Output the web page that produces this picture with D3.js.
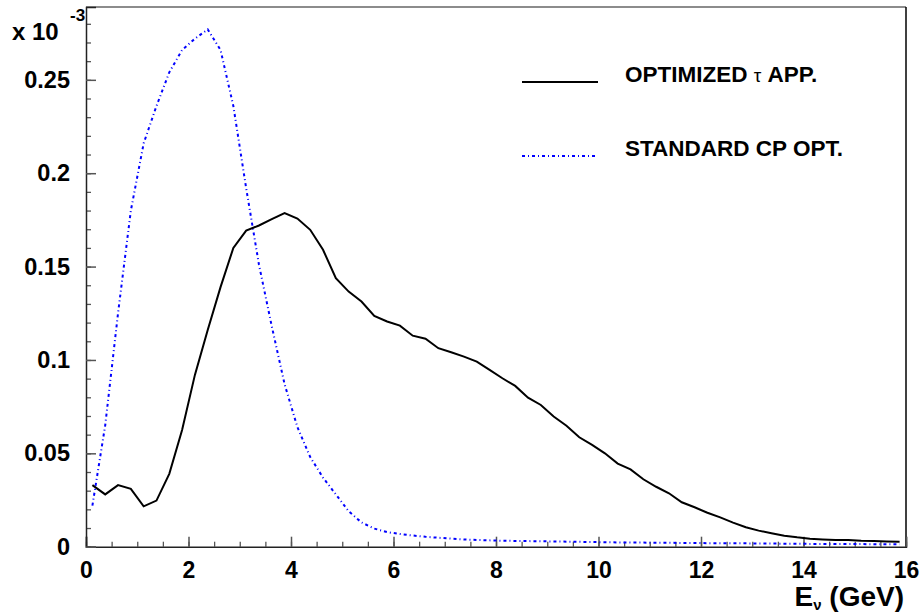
<!DOCTYPE html>
<html>
<head>
<meta charset="utf-8">
<script src="https://cdnjs.cloudflare.com/ajax/libs/d3/7.8.5/d3.min.js"></script>
<style>
  body { margin: 0; background: #fff; }
  text { font-family: "Liberation Sans", Arial, Helvetica, sans-serif; font-weight: bold; fill: #000; }
</style>
</head>
<body>
<script>
let w = 921;
let h = 614;
var margin = {left: 86, right: 15, top: 7, bottom: 67.3};

// bin centres, 0.25 GeV wide bins
var energy = d3.range(64).map(i => 0.125 + i * 0.25);

var optimizedTau = [
    0.033, 0.028, 0.033, 0.031, 0.0216, 0.0247, 0.039, 0.0625,
    0.092, 0.116, 0.139, 0.160, 0.1693, 0.172, 0.1754, 0.1786,
    0.1757, 0.1697, 0.159, 0.1438, 0.1366, 0.1313, 0.1236, 0.1206,
    0.1184, 0.113, 0.1114, 0.1063, 0.1041, 0.1018, 0.0991, 0.0947,
    0.0902, 0.0861, 0.0798, 0.0759, 0.0697, 0.0648, 0.0586, 0.0545,
    0.050, 0.0445, 0.0414, 0.0361, 0.0321, 0.0286, 0.0238, 0.0211,
    0.0182, 0.0157, 0.0129, 0.0104, 0.0086, 0.0072, 0.0059, 0.005,
    0.0043, 0.0039, 0.0036, 0.0036, 0.0032, 0.0030, 0.0028, 0.0027
];

var standardCP = [
    0.022, 0.065, 0.125, 0.18, 0.216, 0.236, 0.254, 0.266,
    0.272, 0.277, 0.266, 0.236, 0.192, 0.151, 0.118, 0.087,
    0.064, 0.048, 0.037, 0.028, 0.019, 0.013, 0.0097, 0.0078,
    0.0068, 0.006, 0.0053, 0.0048, 0.0043, 0.0039, 0.0036, 0.0034,
    0.0032, 0.0031, 0.003, 0.0029, 0.0028, 0.0027, 0.0026, 0.0025,
    0.0024, 0.0023, 0.0022, 0.0022, 0.0021, 0.0021, 0.002, 0.002,
    0.0019, 0.0019, 0.0018, 0.0018, 0.0017, 0.0017, 0.0016, 0.0016,
    0.0015, 0.0015, 0.0014, 0.0014, 0.0014, 0.0013, 0.0013, 0.0013
];

var xTicks = [0, 2, 4, 6, 8, 10, 12, 14, 16];
var xTickLabels = ["0", "2", "4", "6", "8", "10", "12", "14", "16"];
var yTicks = [0, 0.05, 0.1, 0.15, 0.2, 0.25];
var yTickLabels = ["0", "0.05", "0.1", "0.15", "0.2", "0.25"];

var legendNames = [["OPTIMIZED ", "\u03c4", " APP."], ["STANDARD CP OPT.", "", ""]];

var svg = d3.select("body").append("svg")
    .attr("width", w)
    .attr("height", h);

var x = d3.scaleLinear().domain([0, 16]).range([margin.left, w - margin.right]);
var y = d3.scaleLinear().domain([0, 0.289]).range([h - margin.bottom, margin.top]);

// frame top / right
svg.append("line")
    .attr("x1", x(0)).attr("x2", x(16))
    .attr("y1", y(0.289)).attr("y2", y(0.289))
    .attr("stroke", "#666").attr("stroke-width", 1.5);
svg.append("line")
    .attr("x1", x(16)).attr("x2", x(16))
    .attr("y1", y(0.289)).attr("y2", y(0))
    .attr("stroke", "#000").attr("stroke-width", 1.5);

// minor ticks
svg.append("g")
    .attr("transform", `translate(0,${y(0)})`)
    .call(d3.axisBottom(x).tickValues(d3.range(0, 16.01, 0.5)).tickSize(-5).tickFormat(""))
    .call(g => g.select(".domain").remove())
    .call(g => g.selectAll("line").attr("stroke", "#555").attr("stroke-width", 1.3));
svg.append("g")
    .attr("transform", `translate(${x(0)},0)`)
    .call(d3.axisLeft(y).tickValues(d3.range(0, 0.2891, 0.01)).tickSize(-5).tickFormat(""))
    .call(g => g.select(".domain").remove())
    .call(g => g.selectAll("line").attr("stroke", "#555").attr("stroke-width", 1.3));

// major ticks + labels
var xAxis = svg.append("g")
    .attr("transform", `translate(0,${y(0)})`)
    .call(d3.axisBottom(x).tickValues(xTicks).tickSize(-10).tickPadding(15)
        .tickFormat((d, i) => xTickLabels[i]));
xAxis.select(".domain").attr("stroke", "#222").attr("stroke-width", 1.5);
xAxis.selectAll("line").attr("stroke", "#555").attr("stroke-width", 1.5);
xAxis.selectAll("text").attr("font-size", 23).attr("fill", "#000")
    .attr("font-family", "Liberation Sans, Arial, sans-serif").attr("font-weight", "bold");

var yAxis = svg.append("g")
    .attr("transform", `translate(${x(0)},0)`)
    .call(d3.axisLeft(y).tickValues(yTicks).tickSize(-10).tickPadding(16)
        .tickFormat((d, i) => yTickLabels[i]));
yAxis.select(".domain").attr("stroke", "#222").attr("stroke-width", 1.5);
yAxis.selectAll("line").attr("stroke", "#555").attr("stroke-width", 1.5);
yAxis.selectAll("text").attr("font-size", 23.5).attr("fill", "#000")
    .attr("font-family", "Liberation Sans, Arial, sans-serif").attr("font-weight", "bold");

// curves
var line = d3.line()
    .x((d, i) => x(energy[i]))
    .y(d => y(d));

svg.append("path")
    .datum(standardCP)
    .attr("d", line)
    .attr("fill", "none")
    .attr("stroke", "#0000ff")
    .attr("stroke-width", 2)
    .attr("stroke-dasharray", "3,3,1,3");

svg.append("path")
    .datum(optimizedTau)
    .attr("d", line)
    .attr("fill", "none")
    .attr("stroke", "#000")
    .attr("stroke-width", 2);

// legend
var legendStyles = [
    {stroke: "#000", dash: null, y: 82},
    {stroke: "#0000ff", dash: "3,3,1,3", y: 156}
];
legendNames.forEach((name, i) => {
    svg.append("line")
        .attr("x1", 522).attr("x2", 598)
        .attr("y1", legendStyles[i].y).attr("y2", legendStyles[i].y)
        .attr("stroke", legendStyles[i].stroke)
        .attr("stroke-width", 2)
        .attr("stroke-dasharray", legendStyles[i].dash);
    var t = svg.append("text")
        .attr("x", 625).attr("y", legendStyles[i].y)
        .attr("font-size", 22.5);
    t.append("tspan").text(name[0]);
    t.append("tspan").attr("font-weight", "normal").attr("font-size", 19).text(name[1]);
    t.append("tspan").text(name[2]);
});

// multiplier
svg.append("text").attr("x", 12).attr("y", 40).attr("font-size", 24).text("x 10");
svg.append("text").attr("x", 70).attr("y", 21).attr("font-size", 17).text("-3");

// x title
var title = svg.append("text")
    .attr("x", 904).attr("y", 606)
    .attr("text-anchor", "end")
    .attr("font-size", 28);
title.append("tspan").text("E");
title.append("tspan").attr("dy", 4).attr("font-size", 15).text("\u03bd");
title.append("tspan").attr("dy", -4).text(" (GeV)");
</script>
</body>
</html>
